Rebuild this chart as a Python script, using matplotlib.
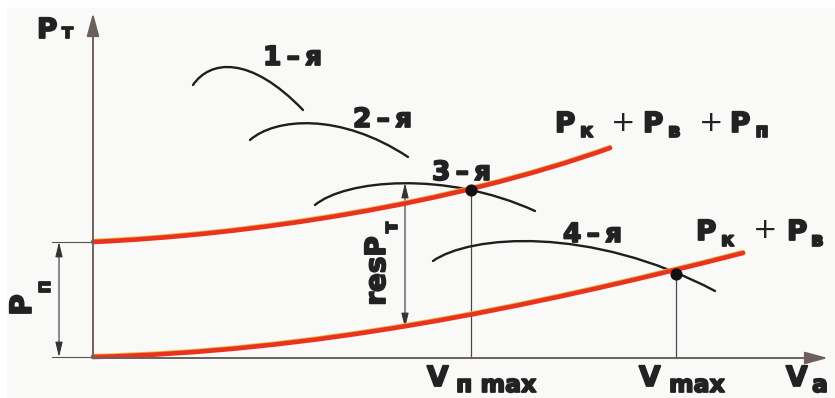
import matplotlib
matplotlib.use('Agg')
import matplotlib.pyplot as plt
import matplotlib.patheffects as pe
from matplotlib.path import Path
from matplotlib.patches import PathPatch, Rectangle

# Picture coordinates (px, y grows downward); each curve = cubic Bezier (start, c1, c2, end)
gear_1 = [(193, 85), (210, 60), (250, 55), (303, 110)]
gear_2 = [(250, 140), (275, 118), (340, 112), (408, 157)]
gear_3 = [(315, 205), (345, 180), (445, 170), (535, 211)]
gear_4 = [(433, 261), (470, 235), (590, 225), (715, 291)]
resist_kv = [(93, 357), (310, 352), (520, 310), (743, 253)]     # Pk + Pv
resist_kvp = [(93, 242), (250, 235), (450, 205), (610, 148)]    # Pk + Pv + Pp

# operating points (intersection)
pt_x = [471, 676]
pt_y = [190, 274]

origin = (93, 358)
x_end = 828
y_end = 13
pp_top = 242          # level of Pp
res_top, res_bot = 183, 328

AXIS_C = '#6d605c'
TXT_C = '#222222'
RED = '#e8341f'
ORANGE = '#f6b040'

fig = plt.figure(figsize=(8.35, 3.98), dpi=100)
ax = fig.add_axes([0, 0, 1, 1])
ax.set_xlim(0, 835)
ax.set_ylim(398, 0)
ax.axis('off')

ax.add_patch(Rectangle((7, 8), 828, 390, color='#f9f9f7', zorder=0))


def bezier(pts, **kw):
    path = Path(pts, [Path.MOVETO, Path.CURVE4, Path.CURVE4, Path.CURVE4])
    patch = PathPatch(path, fill=False, capstyle='round', **kw)
    ax.add_patch(patch)
    return patch


# traction curves (gears)
for c in [gear_1, gear_2, gear_3, gear_4]:
    bezier(c, lw=1.7, edgecolor='#1e1e1e', zorder=3)

# resistance curves: red with orange fringe
for c in [resist_kv, resist_kvp]:
    bezier(c, lw=3.3, edgecolor=RED, zorder=4,
           path_effects=[pe.Stroke(offset=(0, 0.9), linewidth=2.8, foreground=ORANGE),
                         pe.Normal()])

# axes with arrows
arrow_kw = dict(arrowstyle='-|>,head_length=1.4,head_width=0.38', lw=1.4,
                color=AXIS_C, shrinkA=0, shrinkB=0)
ax.annotate('', xy=(origin[0], y_end), xytext=origin, arrowprops=arrow_kw, zorder=5)
ax.annotate('', xy=(x_end, origin[1]), xytext=origin, arrowprops=arrow_kw, zorder=5)

# verticals at Vp max / Vmax
for x, y in zip(pt_x, pt_y):
    ax.plot([x, x], [y, origin[1]], color='#4a4a4a', lw=0.9, zorder=2)
ax.scatter(pt_x, pt_y, s=60, color='#111111', zorder=6)

# Pp dimension
ax.plot([52, origin[0]], [pp_top, pp_top], color='#555555', lw=0.8)
ax.plot([52, origin[0]], [origin[1] - 1, origin[1] - 1], color='#555555', lw=0.8)
dim_kw = dict(arrowstyle='<|-|>,head_length=0.9,head_width=0.22', lw=0.8,
              color='#333333', shrinkA=0, shrinkB=0)
ax.annotate('', xy=(59, pp_top), xytext=(59, origin[1] - 1), arrowprops=dim_kw)
# resP dimension
ax.annotate('', xy=(405, res_top), xytext=(405, res_bot), arrowprops=dim_kw)

heavy = [pe.withStroke(linewidth=1.3, foreground=TXT_C)]
bold = dict(color=TXT_C, fontweight='bold', family='DejaVu Sans', path_effects=heavy)

# Pт
ax.text(37, 38, 'P', fontsize=20, **bold)
ax.text(62, 38, 'т', fontsize=14, **bold)

# gear labels
gear_labels = ['1\u2009–\u2009я', '2\u2009–\u2009я', '3\u2009–\u2009я', '4\u2009–\u2009я']
gear_lx = [263, 353, 432, 563]
gear_ly = [65, 127, 180, 242]
for s, x, y in zip(gear_labels, gear_lx, gear_ly):
    ax.text(x, y, s, fontsize=19, **bold)

# Pk + Pv + Pp
ax.text(555, 132, 'P', fontsize=20, **bold)
ax.text(580, 137, 'к', fontsize=14, **bold)
ax.text(623, 123, '+', fontsize=21, color=TXT_C, ha='center', va='center')
ax.text(643, 132, 'P', fontsize=20, **bold)
ax.text(668, 137, 'в', fontsize=14, **bold)
ax.text(711, 123, '+', fontsize=21, color=TXT_C, ha='center', va='center')
ax.text(730, 132, 'P', fontsize=20, **bold)
ax.text(755, 137, 'п', fontsize=14, **bold)

# Pk + Pv
ax.text(696, 240, 'P', fontsize=20, **bold)
ax.text(721, 246, 'к', fontsize=14, **bold)
ax.text(765, 230, '+', fontsize=21, color=TXT_C, ha='center', va='center')
ax.text(787, 240, 'P', fontsize=20, **bold)
ax.text(811, 246, 'в', fontsize=14, **bold)

# rotated labels
ax.text(23, 305, 'P', fontsize=21, rotation=90, ha='center', va='center', **bold)
ax.text(44, 287, 'п', fontsize=14, rotation=90, ha='center', va='center', **bold)
ax.text(377, 271, 'resP', fontsize=20, rotation=90, ha='center', va='center', **bold)
ax.text(391, 227, 'т', fontsize=14, rotation=90, ha='center', va='center', **bold)

# V axis labels
ax.text(427, 386, 'V', fontsize=20, **bold)
ax.text(456, 397, 'п max', fontsize=17, va='bottom', **bold)
ax.text(639, 386, 'V', fontsize=20, **bold)
ax.text(669, 397, 'max', fontsize=17, va='bottom', **bold)
ax.text(786, 386, 'V', fontsize=20, **bold)
ax.text(812, 397, 'a', fontsize=17, va='bottom', **bold)

fig.savefig('out.png', dpi=100)
